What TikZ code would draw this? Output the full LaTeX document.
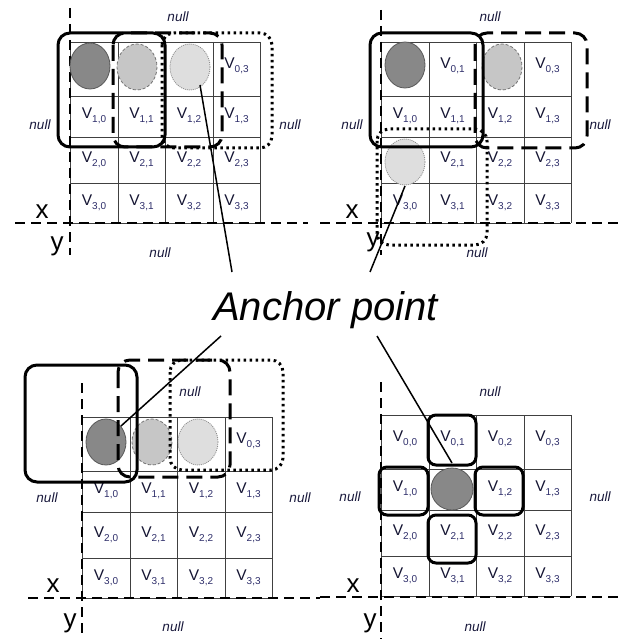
\documentclass[tikz,border=0pt]{standalone}
\usepackage{fontspec}
\setmainfont{Liberation Sans}
\definecolor{vcol}{RGB}{20,20,50}
\definecolor{scol}{RGB}{45,45,105}
\definecolor{nullcol}{RGB}{25,25,60}
\definecolor{darkfill}{RGB}{136,136,136}
\definecolor{midfill}{RGB}{198,198,198}
\definecolor{lightfill}{RGB}{222,222,222}
\newcommand{\cellV}[1]{\textcolor{vcol}{\fontsize{15.5}{15.5}\selectfont V}\raisebox{-3.5pt}{\textcolor{scol}{\fontsize{10}{10}\selectfont #1}}}
\tikzset{
  gridl/.style={line width=0.7pt, draw=black!75},
  axisl/.style={line width=1.6pt, dash pattern=on 10pt off 6pt},
  cell/.style={inner sep=0pt, anchor=center},
  nulltxt/.style={inner sep=0pt, font=\fontsize{13.5}{13.5}\selectfont\itshape, text=nullcol},
  axtxt/.style={inner sep=0pt, font=\fontsize{26}{26}\selectfont},
  darkc/.style={fill=darkfill, draw=black!65, line width=0.8pt},
  midc/.style={fill=midfill, draw=black!55, line width=0.8pt, dash pattern=on 3pt off 2pt},
  lightc/.style={fill=lightfill, draw=black!45, line width=0.8pt, dash pattern=on 1pt off 1pt},
  solidbox/.style={line width=3pt, rounded corners=12pt},
  dashbox/.style={line width=3pt, rounded corners=12pt, dash pattern=on 16pt off 8pt},
  dotbox/.style={line width=3pt, rounded corners=12pt, dash pattern=on 2.5pt off 3.5pt},
  smallbox/.style={line width=3pt, rounded corners=8pt},
  ptr/.style={line width=1.5pt},
}
\newcommand{\gridlines}{%
  \foreach \xx in {0,48,95,143,190} \draw[gridl] (\xx,0) -- (\xx,181);
  \foreach \yy in {0,54,95,141,181} \draw[gridl] (0,\yy) -- (190,\yy);
}
\newcommand{\cells}[2]{%
  \foreach \r/\c in {#2} {
    \pgfmathsetmacro\cx{24+47.5*\c}
    \pgfmathsetmacro\cy{{24,74,118,161}[\r]}
    \node[cell] (#1-\r-\c) at (\cx,\cy) {\cellV{\r,\c}};
  }
}
\begin{document}
\begin{tikzpicture}[x=1pt,y=-1pt]
\useasboundingbox (0,0) rectangle (626,639);

% ---------------- top-left ----------------
\begin{scope}[shift={(70,42)}]
  \gridlines
  \cells{tl}{0/3,1/0,1/1,1/2,1/3,2/0,2/1,2/2,2/3,3/0,3/1,3/2,3/3}
  \draw[axisl] (0,-34) -- (0,213);
  \draw[axisl] (-55,181) -- (238,181);
  \node[axtxt] (tlx) at (-28,170) {x};
  \node[axtxt] (tly) at (-13,204) {y};
  \node[nulltxt] (tln1) at (108,-25) {null};
  \node[nulltxt] (tln2) at (-30,83) {null};
  \node[nulltxt] (tln3) at (220,83) {null};
  \node[nulltxt] (tln4) at (90,211) {null};
  \draw[darkc] (20,24) ellipse [x radius=20, y radius=23];
  \draw[midc] (67,25) ellipse [x radius=20, y radius=23];
  \draw[lightc] (120,25) ellipse [x radius=20, y radius=23];
  \coordinate (tlend) at (130,43);
  \draw[dotbox] (92,-9) rectangle (202,106);
  \draw[dashbox] (43,-9) rectangle (152,105);
  \draw[solidbox] (-12,-9) rectangle (95,105);
\end{scope}

% ---------------- top-right ----------------
\begin{scope}[shift={(381,42)}]
  \gridlines
  \cells{tr}{0/1,0/3,1/0,1/1,1/2,1/3,2/1,2/2,2/3,3/0,3/1,3/2,3/3}
  \draw[axisl] (0,-32) -- (0,213);
  \draw[axisl] (-61,181) -- (239,181);
  \node[axtxt] (trx) at (-29,170) {x};
  \node[axtxt] (try) at (-8,200) {y};
  \node[nulltxt] (trn1) at (109,-25) {null};
  \node[nulltxt] (trn2) at (-29,83) {null};
  \node[nulltxt] (trn3) at (219,83) {null};
  \node[nulltxt] (trn4) at (96,211) {null};
  \draw[darkc] (24,23) ellipse [x radius=20, y radius=23];
  \draw[midc] (121,25) ellipse [x radius=20, y radius=23];
  \draw[lightc] (24,120) ellipse [x radius=20, y radius=23];
  \coordinate (trend) at (24,144);
  \draw[dashbox] (94,-9) rectangle (206,106);
  \draw[dotbox] (-4,87) rectangle (106,203);
  \draw[solidbox] (-11,-9) rectangle (102,105);
\end{scope}

% ---------------- bottom-left ----------------
\begin{scope}[shift={(82,417)}]
  \gridlines
  \cells{bl}{0/3,1/0,1/1,1/2,1/3,2/0,2/1,2/2,2/3,3/0,3/1,3/2,3/3}
  \draw[axisl] (0,-34) -- (0,222);
  \draw[axisl] (-54,181) -- (238,181);
  \node[axtxt] (blx) at (-29,169) {x};
  \node[axtxt] (bly) at (-12,206) {y};
  \node[nulltxt] (bln1) at (108,-25) {null};
  \node[nulltxt] (bln2) at (-35,81) {null};
  \node[nulltxt] (bln3) at (218,81) {null};
  \node[nulltxt] (bln4) at (91,210) {null};
  \draw[darkc] (24,25) ellipse [x radius=20, y radius=23];
  \draw[midc] (70,25) ellipse [x radius=20, y radius=23];
  \draw[lightc] (116,25) ellipse [x radius=20, y radius=23];
  \coordinate (blend) at (39,9);
  \draw[dotbox] (88,-57) rectangle (201,53);
  \draw[dashbox] (36,-57) rectangle (148,60);
  \draw[solidbox] (-57,-52) rectangle (55,65);
\end{scope}

% ---------------- bottom-right ----------------
\begin{scope}[shift={(381,415)}]
  \gridlines
  \cells{br}{0/0,0/1,0/2,0/3,1/0,1/2,1/3,2/0,2/1,2/2,2/3,3/0,3/1,3/2,3/3}
  \draw[axisl] (0,-33) -- (0,224);
  \draw[axisl] (-61,182) -- (239,182);
  \node[axtxt] (brx) at (-28,171) {x};
  \node[axtxt] (bry) at (-11,208) {y};
  \node[nulltxt] (brn1) at (109,-23) {null};
  \node[nulltxt] (brn2) at (-31,82) {null};
  \node[nulltxt] (brn3) at (219,82) {null};
  \node[nulltxt] (brn4) at (94,212) {null};
  \draw[darkc] (71,74) circle [radius=21];
  \coordinate (brend) at (71,48);
  \draw[smallbox] (47,0) rectangle (95,50);
  \draw[smallbox] (-2,52) rectangle (47,100);
  \draw[smallbox] (94,52) rectangle (142,100);
  \draw[smallbox] (47,100) rectangle (95,148);
\end{scope}

% ---------------- anchor text and pointers ----------------
\node[inner sep=0pt, anchor=base, font=\fontsize{40}{40}\selectfont\itshape] (anchor) at (325.5,320) {Anchor point};
\coordinate (s1) at (232,272);
\coordinate (s2) at (370,272);
\coordinate (s3) at (221,336);
\coordinate (s4) at (377,336);
\draw[ptr] (s1) -- (tlend);
\draw[ptr] (s2) -- (trend);
\draw[ptr] (s3) -- (blend);
\draw[ptr] (s4) -- (brend);
\end{tikzpicture}
\end{document}
